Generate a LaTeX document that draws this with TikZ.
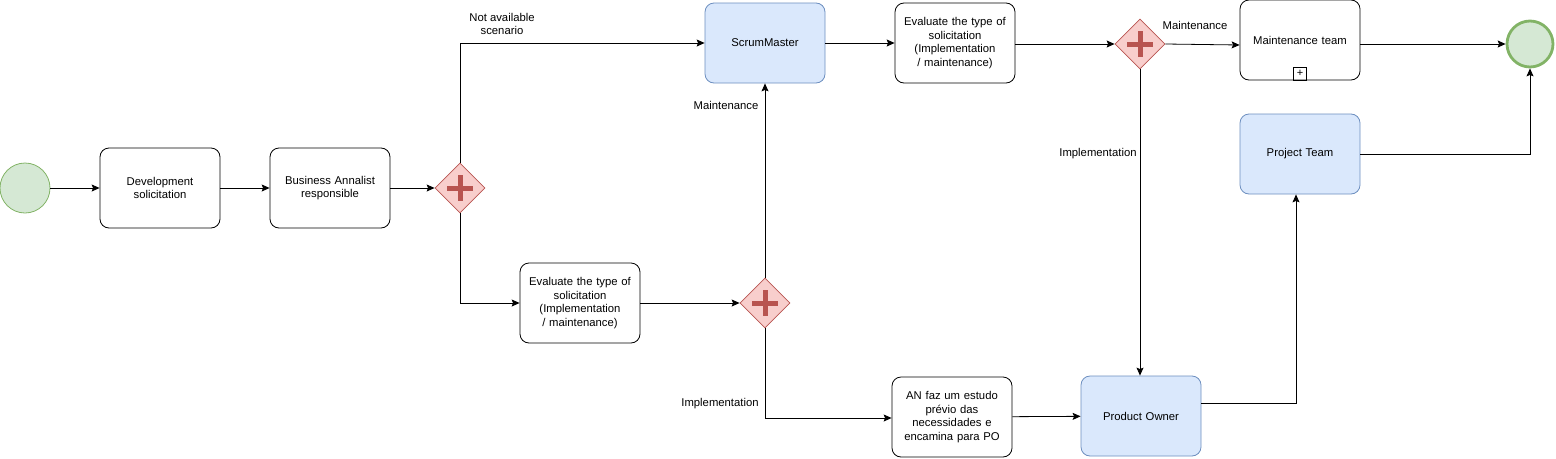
\documentclass[tikz,border=0pt]{standalone}
\usepackage{fontspec}
\setmainfont{Liberation Sans}
\usetikzlibrary{shapes.geometric,arrows.meta,calc}
\definecolor{evfill}{HTML}{D5E8D4}
\definecolor{evline}{HTML}{82B366}
\definecolor{gwfill}{HTML}{F8CECC}
\definecolor{gwline}{HTML}{B85450}
\definecolor{bluefill}{HTML}{DAE8FC}
\definecolor{blueline}{HTML}{6C8EBF}
\tikzset{
  task/.style={draw=black, rounded corners=9pt, minimum width=120pt, minimum height=80pt, text width=116pt, align=center, inner sep=1pt, font=\fontsize{11.3}{13.5}\selectfont, line width=0.8pt},
  btask/.style={task, fill=bluefill, draw=blueline},
  gw/.style={diamond, draw=gwline, fill=gwfill, minimum width=50pt, minimum height=50pt, inner sep=0pt, line width=0.8pt},
  startev/.style={circle, draw=evline, fill=evfill, minimum size=50pt, inner sep=0pt, line width=0.8pt},
  endev/.style={circle, draw=evline, fill=evfill, minimum size=46pt, inner sep=0pt, line width=2.8pt},
  flow/.style={draw=black, line width=0.8pt, -{Stealth[length=8pt,width=7pt,inset=1.5pt]}},
  lbl/.style={font=\fontsize{11.3}{13.5}\selectfont, align=center, inner sep=1pt},
}
\newcommand{\gwplus}[1]{%
  \draw[gwline, line width=5pt] ($(#1)+(-13,0)$) -- ($(#1)+(13,0)$);
  \draw[gwline, line width=5pt] ($(#1)+(0,-13)$) -- ($(#1)+(0,13)$);
}
\begin{document}
\begin{tikzpicture}[x=1pt,y=-1pt]
\useasboundingbox (0,0) rectangle (1556,458);
% events
\node[startev] (start) at (25,188) {};
\node[endev] (end) at (1530,44) {};
% tasks
\node[task] (dev) at (160,188) {Development\\solicitation};
\node[task] (ba) at (330,188) {Business Annalist\\responsible};
\node[btask] (sm) at (765,43) {ScrumMaster};
\node[task] (evt) at (955,43) {Evaluate the type of\\solicitation\\(Implementation\\/ maintenance)};
\node[task] (mt) at (1300,40) {Maintenance team};
\node[btask] (pt) at (1300,154) {Project Team};
\node[task] (evb) at (580,303) {Evaluate the type of\\solicitation\\(Implementation\\/ maintenance)};
\node[task] (an) at (952,417) {AN faz um estudo\\prévio das\\necessidades e\\encamina para PO};
\node[btask] (po) at (1141,416) {Product Owner};
% subprocess marker
\node[draw=black, line width=0.8pt, minimum size=13pt, inner sep=0pt, font=\fontsize{11}{11}\selectfont] (mk) at (1300,73.5) {+};
% gateways
\node[gw] (g1) at (460,188) {};
\node[gw] (g2) at (765,303) {};
\node[gw] (g3) at (1140,44) {};
\gwplus{g1}
\gwplus{g2}
\gwplus{g3}
% corner coordinates
\coordinate (c1) at (460,43);
\coordinate (c2) at (460,303);
\coordinate (c3) at (765,418);
\coordinate (c4) at (1296,403);
\coordinate (c5) at (1530,154);
% flows
\draw[flow] (start) -- (dev);
\draw[flow] (dev) -- (ba);
\draw[flow] (ba) -- (g1);
\draw[flow] (g1.north) -- (c1) -- (sm.west);
\draw[flow] (g1.south) -- (c2) -- (evb.west);
\draw[flow] (evb) -- (g2);
\draw[flow] (g2.north) -- (sm.south);
\draw[flow] (g2.south) -- (c3) -- (an.west |- c3);
\draw[flow] (sm) -- (evt);
\draw[flow] (evt.east |- g3) -- (g3.west);
\draw[flow] (g3.east) -- ($(mt.west)+(0,5)$);
\draw[flow] (g3.south) -- (po.north -| g3);
\draw[flow] (an) -- (po);
\draw[flow] (po.east |- c4) -- (c4) -- (pt.south -| c4);
\draw[flow] (mt.east |- end) -- (end.west);
\draw[flow] (pt.east) -- (c5) -- (end.south);
% labels
\node[lbl] (l1) at (502,24) {Not available\\scenario};
\node[lbl] (l2) at (726,105) {Maintenance};
\node[lbl] (l3) at (720,404) {Implementation};
\node[lbl] (l4) at (1195,25) {Maintenance};
\node[lbl] (l5) at (1098,154) {Implementation};
\end{tikzpicture}
\end{document}
